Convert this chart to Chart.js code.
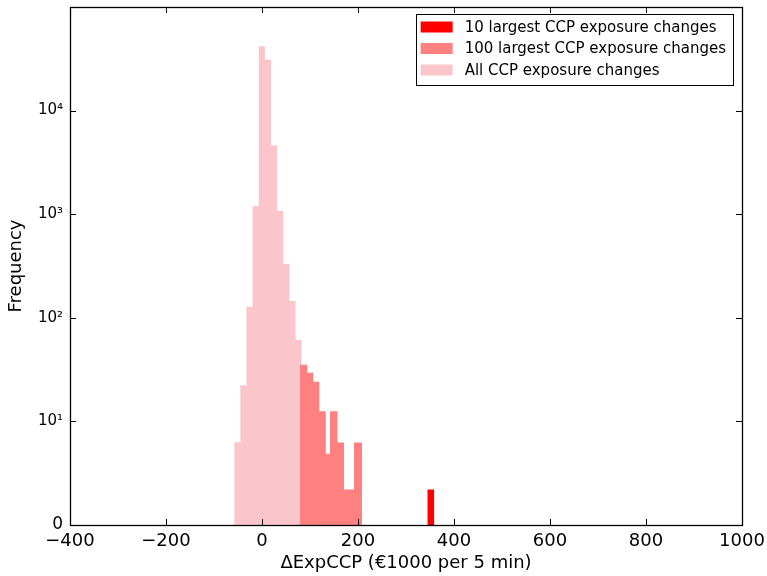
<!DOCTYPE html>
<html><head><meta charset="utf-8">
<script src="https://cdn.jsdelivr.net/npm/chart.js@4"></script>
<style>html,body{margin:0;padding:0;background:#fff}#wrap{width:767px;height:576px}</style>
</head><body><div id="wrap"><canvas id="c" width="767" height="576"></canvas></div>
<script>
// ---- data ----
const seriesNames = ['10 largest CCP exposure changes', '100 largest CCP exposure changes', 'All CCP exposure changes'];
const seriesColors = ['#ff0000', '#ff8080', '#fac6cb'];
// histogram bin edges (x, in €1000 per 5 min) and bin frequencies
const allEdges = [-58, -45.2, -32.4, -19.6, -6.8, 6, 18.8, 31.6, 44.4, 57.2, 70, 82.8];
const allCounts = [6.3, 22.3, 128, 1203, 41700, 31000, 4610, 1075, 332, 145, 61];
const top100Edges = [79.2, 94.4, 106.9, 119.4, 132.9, 141.7, 157.3, 170.8, 191.7, 208.3];
const top100Counts = [35.2, 29.5, 24.2, 12.5, 4.86, 12.5, 6.25, 2.2, 6.25];
const top10Edges = [344.4, 359];
const top10Counts = [2.2];
const xTicks = [-400, -200, 0, 200, 400, 600, 800, 1000];
const yTicks = [1, 10, 100, 1000, 10000];
const yTickLabels = ['0', '10\u00b9', '10\u00b2', '10\u00b3', '10\u2074'];
const xTitle = '\u0394ExpCCP (\u20ac1000 per 5 min)';
const yTitle = 'Frequency';
const yMin = 1, yMax = 100000;

function histPoints(edges, counts) {
  const pts = [];
  for (let i = 0; i < counts.length; i++) pts.push({x: edges[i], y: counts[i]});
  pts.push({x: edges[edges.length - 1], y: yMin});
  return pts;
}
const seriesData = [histPoints(top10Edges, top10Counts), histPoints(top100Edges, top100Counts), histPoints(allEdges, allCounts)];

const FONT = "'DejaVu Sans', sans-serif";

const framePlugin = {
  id: 'frame',
  afterDatasetsDraw(chart) {
    const {ctx, chartArea: a, scales} = chart;
    ctx.save();
    ctx.strokeStyle = '#000';
    ctx.lineWidth = 1;
    const tl = 6;
    ctx.beginPath();
    xTicks.forEach(v => {
      const px = Math.round(scales.x.getPixelForValue(v)) + 0.5;
      ctx.moveTo(px, a.bottom); ctx.lineTo(px, a.bottom - tl);
      ctx.moveTo(px, a.top); ctx.lineTo(px, a.top + tl);
    });
    yTicks.forEach(v => {
      const py = Math.round(scales.y.getPixelForValue(v)) + 0.5;
      ctx.moveTo(a.left, py); ctx.lineTo(a.left + tl, py);
      ctx.moveTo(a.right, py); ctx.lineTo(a.right - tl, py);
    });
    ctx.stroke();
    ctx.lineWidth = 1.3;
    ctx.strokeRect(Math.round(a.left) + 0.5, Math.round(a.top) + 0.5, Math.round(a.right - a.left), Math.round(a.bottom - a.top));
    // legend
    ctx.font = '15px ' + FONT;
    let maxW = 0;
    seriesNames.forEach(n => { maxW = Math.max(maxW, ctx.measureText(n).width); });
    const boxR = a.right - 9, boxT = a.top + 7;
    const boxW = 5 + 32 + 12 + maxW + 7;
    const rowH = 21.5, boxH = 71;
    const boxL = boxR - boxW;
    ctx.fillStyle = '#fff';
    ctx.fillRect(boxL, boxT, boxW, boxH);
    ctx.lineWidth = 1;
    ctx.strokeRect(Math.round(boxL) + 0.5, Math.round(boxT) + 0.5, Math.round(boxW), Math.round(boxH));
    ctx.textBaseline = 'middle';
    ctx.textAlign = 'left';
    seriesNames.forEach((n, i) => {
      const cy = boxT + 13 + i * rowH;
      ctx.fillStyle = seriesColors[i];
      ctx.fillRect(boxL + 5, cy - 5.5, 32, 11);
      ctx.fillStyle = '#000';
      ctx.fillText(n, boxL + 5 + 32 + 12, cy + 1);
    });
    ctx.restore();
  }
};

new Chart(document.getElementById('c'), {
  type: 'line',
  data: {
    datasets: seriesNames.map((n, i) => ({
      label: n,
      data: seriesData[i],
      backgroundColor: seriesColors[i],
      borderColor: seriesColors[i],
      borderWidth: 0,
      pointRadius: 0,
      pointHoverRadius: 0,
      stepped: 'before',
      fill: 'start',
      tension: 0
    }))
  },
  options: {
    responsive: false,
    animation: false,
    devicePixelRatio: 1,
    layout: {padding: {top: 7, right: 25, left: 0, bottom: 0}},
    plugins: {legend: {display: false}, tooltip: {enabled: false}},
    scales: {
      x: {
        type: 'linear', min: -400, max: 1000,
        afterBuildTicks: s => { s.ticks = xTicks.map(v => ({value: v})); },
        afterFit: s => { s.height = 51; s.paddingLeft = 0; s.paddingRight = 0; },
        grid: {display: false, drawTicks: false},
        border: {display: false},
        ticks: {
          padding: 6, color: '#000', maxRotation: 0, autoSkip: false,
          font: {family: FONT, size: 18},
          callback: v => String(v).replace('-', '\u2212')
        },
        title: {display: true, text: xTitle, color: '#000', font: {family: FONT, size: 18}, padding: {top: 0, bottom: 2}}
      },
      y: {
        type: 'logarithmic', min: yMin, max: yMax,
        afterBuildTicks: s => { s.ticks = yTicks.map(v => ({value: v})); },
        afterFit: s => { s.width = 70; s.paddingTop = 0; s.paddingBottom = 0; },
        grid: {display: false, drawTicks: false},
        border: {display: false},
        ticks: {
          padding: 7, color: '#000', autoSkip: false,
          font: ctx => ({family: FONT, size: (ctx.tick && ctx.tick.value === 1) ? 17 : 15}),
          callback: v => { const i = yTicks.indexOf(v); return i >= 0 ? yTickLabels[i] : ''; }
        },
        title: {display: true, text: yTitle, color: '#000', font: {family: FONT, size: 18}, padding: {top: 6, bottom: 4}}
      }
    }
  },
  plugins: [framePlugin]
});
</script>
</body></html>
